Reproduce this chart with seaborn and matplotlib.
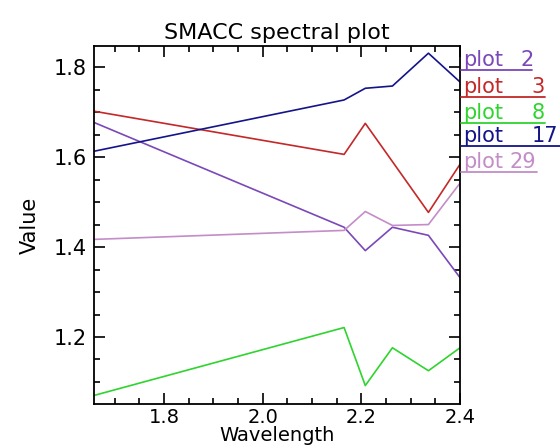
import matplotlib
matplotlib.use("Agg")
import matplotlib.pyplot as plt
import seaborn as sns
import pandas as pd
from matplotlib.ticker import MultipleLocator

wavelength = [1.658, 2.165, 2.208, 2.263, 2.336, 2.400]
plot_2 = [1.677, 1.444, 1.392, 1.444, 1.426, 1.332]
plot_3 = [1.702, 1.606, 1.675, 1.590, 1.477, 1.584]
plot_8 = [1.070, 1.221, 1.092, 1.176, 1.125, 1.176]
plot_17 = [1.613, 1.727, 1.753, 1.758, 1.831, 1.767]
plot_29 = [1.417, 1.437, 1.479, 1.448, 1.450, 1.542]

series_names = ["plot 2", "plot 3", "plot 8", "plot 17", "plot 29"]
series_values = [plot_2, plot_3, plot_8, plot_17, plot_29]
legend_numbers = ["2", "3", "8", "17", "29"]
colors = ["#7a48b8", "#c42828", "#2fd42f", "#14148a", "#c48cc8"]

rows = []
for name, vals in zip(series_names, series_values):
    for x, y in zip(wavelength, vals):
        rows.append({"Wavelength": x, "Value": y, "series": name})
df = pd.DataFrame(rows)

sns.set_style("white")
plt.rcParams['font.family'] = ['DejaVu Sans']
plt.rcParams['text.color'] = 'black'
plt.rcParams['axes.labelcolor'] = 'black'
plt.rcParams['xtick.color'] = 'black'
plt.rcParams['ytick.color'] = 'black'

fig = plt.figure(figsize=(5.6, 4.46), dpi=100)
ax = fig.add_axes([94/560, 42/446, (460-94)/560, (404-46)/446])

sns.lineplot(data=df, x="Wavelength", y="Value", hue="series",
             palette=dict(zip(series_names, colors)), ax=ax,
             linewidth=1.2, legend=False, sort=False, estimator=None)

ax.set_xlim(1.658, 2.40)
ax.set_ylim(1.051, 1.847)
ax.xaxis.set_major_locator(MultipleLocator(0.2))
ax.xaxis.set_minor_locator(MultipleLocator(0.05))
ax.yaxis.set_major_locator(MultipleLocator(0.2))
ax.yaxis.set_minor_locator(MultipleLocator(0.05))
ax.tick_params(which="both", direction="in", top=True, right=True,
               bottom=True, left=True, color="black", width=1.2)
ax.tick_params(which="major", length=8, labelsize=15, pad=5)
ax.tick_params(axis="x", which="major", labelsize=14, pad=3)
ax.tick_params(which="minor", length=4)
for s in ax.spines.values():
    s.set_color("black")
    s.set_linewidth(1.3)

ax.set_xlabel("Wavelength", fontsize=14, labelpad=-1)
ax.set_ylabel("Value", fontsize=15, labelpad=10)
ax.set_title("SMACC spectral plot", fontsize=16, pad=5, color="black")

# legend on the right, IDL style: text with underline
ys = [60, 87, 113, 136, 162]
num_right = [534, 545, 545, 558, 536]
line_end = [532, 545, 545, 560, 537]
for num, c, yc, nr, le in zip(legend_numbers, colors, ys, num_right, line_end):
    fy = 1 - yc / 446
    fig.text(463/560, fy, "plot", color=c, fontsize=15, ha="left", va="center")
    fig.text(nr/560, fy, num, color=c, fontsize=15, ha="right", va="center")
    uy = 1 - (yc + 10) / 446
    fig.add_artist(plt.Line2D([461/560, le/560], [uy, uy], color=c,
                              linewidth=1.3, transform=fig.transFigure))

fig.savefig("out.png", dpi=100, facecolor="white")
